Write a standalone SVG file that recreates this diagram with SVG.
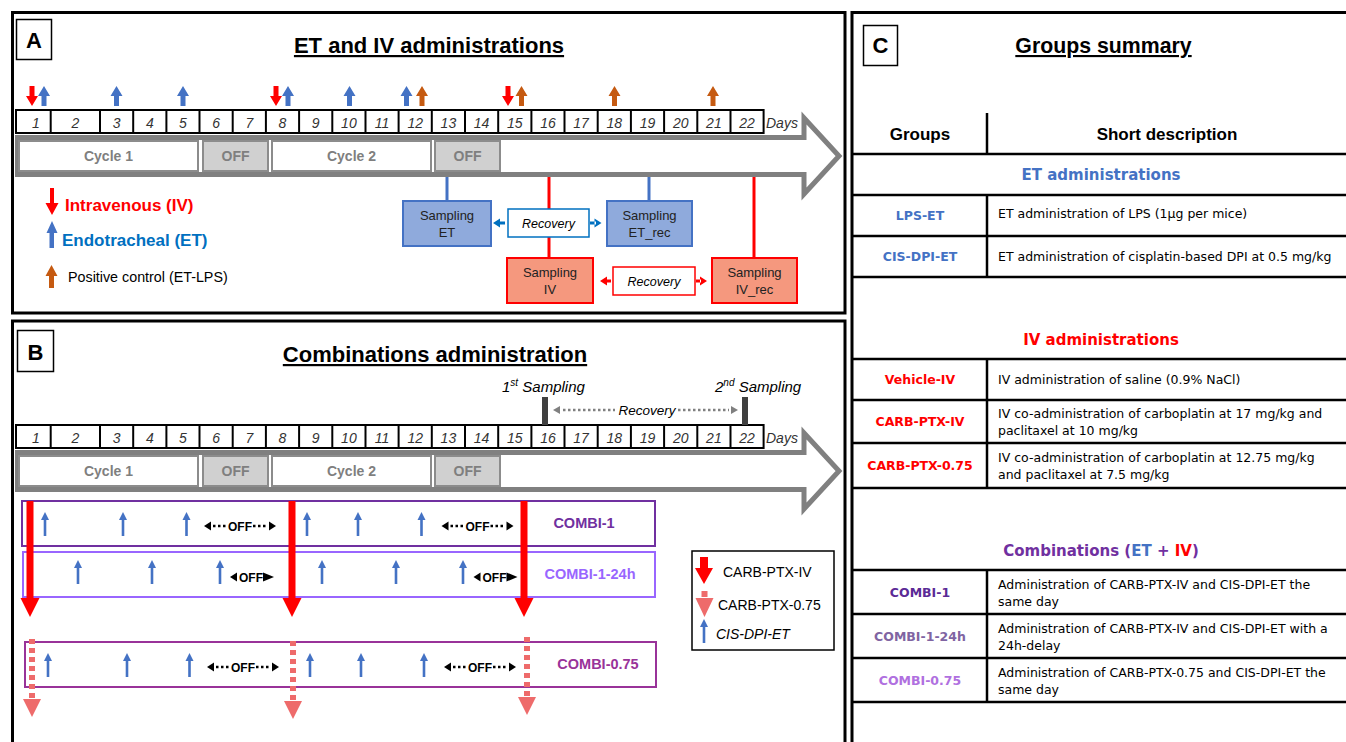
<svg xmlns="http://www.w3.org/2000/svg" xmlns:xlink="http://www.w3.org/1999/xlink" width="1346" height="742" viewBox="0 0 1346 742">
<style>
.frame{fill:none;stroke:#000;stroke-width:3}
.lblbox{fill:#fff;stroke:#000;stroke-width:1.5}
.lbl{font-family:"Liberation Sans",Arial,sans-serif;font-weight:bold;font-size:22px;text-anchor:middle}
.title{font-family:"Liberation Sans",Arial,sans-serif;font-weight:bold;font-size:22px;text-anchor:middle;text-decoration:underline}
.day{font-family:"Liberation Sans",Arial,sans-serif;font-style:italic;font-size:14px;text-anchor:middle;fill:#333}
.cyc{fill:#fff;stroke:#8c8c8c;stroke-width:2}
.offb{fill:#d0d0d0;stroke:#8c8c8c;stroke-width:2}
.cyctxt{font-family:"Liberation Sans",Arial,sans-serif;font-weight:bold;font-size:14px;text-anchor:middle;fill:#7f7f7f}
.cell{stroke:#000;stroke-width:2}
.samp{font-family:"Liberation Sans",Arial,sans-serif;font-size:13px;text-anchor:middle;fill:#222}
.rec{font-family:"Liberation Sans",Arial,sans-serif;font-style:italic;font-size:12.5px;text-anchor:middle;fill:#000}
.sET{fill:#8faadc;stroke:#4472c4;stroke-width:2}
.sIV{fill:#f5987e;stroke:#ff0000;stroke-width:2}
.offt{font-family:"Liberation Sans",Arial,sans-serif;font-weight:bold;font-size:12px;text-anchor:middle;fill:#000}
.dots{stroke:#000;stroke-width:2.5;stroke-dasharray:2.5 2.5;fill:none}
.combi{font-family:"Liberation Sans",Arial,sans-serif;font-weight:bold;font-size:14.5px;text-anchor:middle}
.leg{font-family:"Liberation Sans",Arial,sans-serif;font-size:14px;fill:#000}
.hdr{font-family:"Liberation Sans",Arial,sans-serif;font-weight:bold;font-size:17px;text-anchor:middle;fill:#000}
.sec{font-family:"DejaVu Sans",Verdana,sans-serif;font-weight:bold;font-size:15px;text-anchor:middle}
.grp{font-family:"DejaVu Sans",Verdana,sans-serif;font-weight:bold;font-size:12.5px;text-anchor:middle}
.desc{font-family:"DejaVu Sans",Verdana,sans-serif;font-size:12.5px;fill:#000}
.tl{stroke:#000;stroke-width:2.5}
</style>
<defs>
<path id="up" d="M0,0 L6,10 L2.5,10 L2.5,20 L-2.5,20 L-2.5,10 L-6,10 Z"/>
<path id="dn" d="M-2.5,0 L2.5,0 L2.5,10 L6,10 L0,20 L-6,10 L-2.5,10 Z"/>
<path id="ta" d="M0,0 L4,8 L1.3,8 L1.3,24 L-1.3,24 L-1.3,8 L-4,8 Z" fill="#4472c4"/>
<path id="bigred" d="M-3.5,0 L3.5,0 L3.5,97 L9.5,97 L0,116 L-9.5,97 L-3.5,97 Z" fill="#ff0000"/>
<g id="pinkdash">
<line x1="0" y1="0" x2="0" y2="60" stroke="#ee6b6b" stroke-width="6" stroke-dasharray="5 4"/>
<path d="M-9,60 L9,60 L0,78 Z" fill="#ee6b6b"/>
</g>
<g id="offL">
<path d="M-36,0 L-29,-4.5 L-29,4.5 Z" fill="#000"/>
<line x1="-27" y1="0" x2="-13" y2="0" class="dots"/>
<text x="0" y="4.5" class="offt">OFF</text>
<line x1="13" y1="0" x2="27" y2="0" class="dots"/>
<path d="M36,0 L29,-4.5 L29,4.5 Z" fill="#000"/>
</g>
<g id="offS">
<path d="M-22,0 L-15,-4.5 L-15,4.5 Z" fill="#000"/>
<text x="-1" y="4.5" class="offt">OFF</text>
<path d="M22,0 L11,-4.5 L11,4.5 Z" fill="#000"/>
</g>
<g id="timeline">
<polygon points="17.5,137.5 804,137.5 804,118 839,156 804,194 804,174.5 17.5,174.5" fill="#fff" stroke="#808080" stroke-width="5"/>
<rect x="19" y="141" width="179" height="30" class="cyc"/>
<rect x="203" y="141" width="65" height="30" class="offb"/>
<rect x="272" y="141" width="159" height="30" class="cyc"/>
<rect x="435" y="141" width="65" height="30" class="offb"/>
<text x="108.5" y="161" class="cyctxt">Cycle 1</text>
<text x="235.5" y="161" class="cyctxt">OFF</text>
<text x="351.5" y="161" class="cyctxt">Cycle 2</text>
<text x="467.5" y="161" class="cyctxt">OFF</text>
<rect x="16" y="110" width="747.6" height="23" fill="#fff" class="cell"/>
<g class="cell">
<line x1="50.7" y1="110" x2="50.7" y2="133"/><line x1="100" y1="110" x2="100" y2="133"/>
<line x1="133.2" y1="110" x2="133.2" y2="133"/><line x1="166.4" y1="110" x2="166.4" y2="133"/>
<line x1="199.5" y1="110" x2="199.5" y2="133"/><line x1="232.7" y1="110" x2="232.7" y2="133"/>
<line x1="265.9" y1="110" x2="265.9" y2="133"/><line x1="299.1" y1="110" x2="299.1" y2="133"/>
<line x1="332.3" y1="110" x2="332.3" y2="133"/><line x1="365.5" y1="110" x2="365.5" y2="133"/>
<line x1="398.6" y1="110" x2="398.6" y2="133"/><line x1="431.8" y1="110" x2="431.8" y2="133"/>
<line x1="465" y1="110" x2="465" y2="133"/><line x1="498.2" y1="110" x2="498.2" y2="133"/>
<line x1="531.4" y1="110" x2="531.4" y2="133"/><line x1="564.5" y1="110" x2="564.5" y2="133"/>
<line x1="597.7" y1="110" x2="597.7" y2="133"/><line x1="630.9" y1="110" x2="630.9" y2="133"/>
<line x1="664.1" y1="110" x2="664.1" y2="133"/><line x1="697.3" y1="110" x2="697.3" y2="133"/>
<line x1="730.5" y1="110" x2="730.5" y2="133"/>
</g>
<g class="day">
<text x="36" y="127.5">1</text><text x="75.3" y="127.5">2</text><text x="116.6" y="127.5">3</text>
<text x="149.8" y="127.5">4</text><text x="183" y="127.5">5</text><text x="216.1" y="127.5">6</text>
<text x="249.3" y="127.5">7</text><text x="282.5" y="127.5">8</text><text x="315.7" y="127.5">9</text>
<text x="348.9" y="127.5">10</text><text x="382" y="127.5">11</text><text x="415.2" y="127.5">12</text>
<text x="448.4" y="127.5">13</text><text x="481.6" y="127.5">14</text><text x="514.8" y="127.5">15</text>
<text x="548" y="127.5">16</text><text x="581.1" y="127.5">17</text><text x="614.3" y="127.5">18</text>
<text x="647.5" y="127.5">19</text><text x="680.7" y="127.5">20</text><text x="713.9" y="127.5">21</text>
<text x="747" y="127.5">22</text>
<text x="766" y="127.5" style="text-anchor:start">Days</text>
</g>
</g>
</defs>

<!-- Panel A -->
<g id="panelA">
<rect x="12.5" y="12.5" width="832.5" height="300.5" class="frame"/>
<rect x="16.5" y="19.5" width="35" height="40" class="lblbox"/>
<text x="34" y="47.5" class="lbl">A</text>
<text x="429" y="53" class="title">ET and IV administrations</text>
<use xlink:href="#timeline"/>
<g id="arrowsA">
<use xlink:href="#dn" x="32" y="86" fill="#ff0000"/>
<use xlink:href="#up" x="44" y="86" fill="#4472c4"/>
<use xlink:href="#up" x="116.5" y="86" fill="#4472c4"/>
<use xlink:href="#up" x="183" y="86" fill="#4472c4"/>
<use xlink:href="#dn" x="276" y="86" fill="#ff0000"/>
<use xlink:href="#up" x="288" y="86" fill="#4472c4"/>
<use xlink:href="#up" x="349.5" y="86" fill="#4472c4"/>
<use xlink:href="#up" x="406.5" y="86" fill="#4472c4"/>
<use xlink:href="#up" x="422" y="86" fill="#c55a11"/>
<use xlink:href="#dn" x="508" y="86" fill="#ff0000"/>
<use xlink:href="#up" x="521.5" y="86" fill="#c55a11"/>
<use xlink:href="#up" x="614.5" y="86" fill="#c55a11"/>
<use xlink:href="#up" x="713" y="86" fill="#c55a11"/>
</g>
<g id="legendA">
<path d="M50,188 L54,188 L54,203 L58.5,203 L52,215 L45.5,203 L50,203 Z" fill="#ff0000"/>
<text x="65" y="210.5" font-family="Liberation Sans, Arial, sans-serif" font-weight="bold" font-size="17" fill="#ff0000">Intravenous (IV)</text>
<path d="M52,221 L57.5,233 L54,233 L54,248 L49.5,248 L49.5,233 L46.5,233 Z" fill="#4472c4"/>
<text x="62" y="246" font-family="Liberation Sans, Arial, sans-serif" font-weight="bold" font-size="17" fill="#0070c0">Endotracheal (ET)</text>
<path d="M51.5,265 L57.5,276 L54,276 L54,288 L49,288 L49,276 L45.5,276 Z" fill="#c55a11"/>
<text x="68" y="282" font-family="Liberation Sans, Arial, sans-serif" font-size="14.3" fill="#000">Positive control (ET-LPS)</text>
</g>
</g>

<g id="connectorsA">
<line x1="447" y1="177" x2="447" y2="201" stroke="#4472c4" stroke-width="3"/>
<line x1="649" y1="177" x2="649" y2="201" stroke="#4472c4" stroke-width="3"/>
<line x1="549" y1="177" x2="549" y2="258" stroke="#ff0000" stroke-width="3"/>
<line x1="754" y1="177" x2="754" y2="258" stroke="#ff0000" stroke-width="3"/>
<path d="M493,223 L500,218.5 L500,227.5 Z M499,221.5 L505,221.5 L505,224.5 L499,224.5 Z" fill="#0070c0"/>
<path d="M601.5,223 L594.5,218.5 L594.5,227.5 Z M590,221.5 L596,221.5 L596,224.5 L590,224.5 Z" fill="#0070c0"/>
<path d="M600,281 L607,276.5 L607,285.5 Z M606,279.5 L611,279.5 L611,282.5 L606,282.5 Z" fill="#ff0000"/>
<path d="M707,281 L700,276.5 L700,285.5 Z M696,279.5 L701,279.5 L701,282.5 L696,282.5 Z" fill="#ff0000"/>
</g>

<g id="sampET">
<rect x="403" y="201" width="88" height="45" class="sET"/>
<text x="447" y="220" class="samp">Sampling</text>
<text x="447" y="237" class="samp">ET</text>
</g>
<g id="recET">
<rect x="508" y="209" width="81" height="28" fill="#fff" stroke="#0070c0" stroke-width="1.5"/>
<text x="548.5" y="227.5" class="rec">Recovery</text>
</g>
<g id="sampETrec">
<rect x="607" y="201" width="85" height="45" class="sET"/>
<text x="649.5" y="220" class="samp">Sampling</text>
<text x="649.5" y="237" class="samp">ET_rec</text>
</g>
<g id="sampIV">
<rect x="507" y="258" width="86" height="45" class="sIV"/>
<text x="550" y="277" class="samp">Sampling</text>
<text x="550" y="294" class="samp">IV</text>
</g>
<g id="recIV">
<rect x="613" y="267" width="82" height="28" fill="#fff" stroke="#ff0000" stroke-width="1.5"/>
<text x="654" y="285.5" class="rec">Recovery</text>
</g>
<g id="sampIVrec">
<rect x="712" y="258" width="85" height="45" class="sIV"/>
<text x="754.5" y="277" class="samp">Sampling</text>
<text x="754.5" y="294" class="samp">IV_rec</text>
</g>

<!-- Panel B -->
<g id="panelB">
<rect x="12.5" y="321" width="832.5" height="440" class="frame"/>
<rect x="17.5" y="330.5" width="36" height="41" class="lblbox"/>
<text x="35.5" y="360" class="lbl">B</text>
<text x="435" y="362" class="title">Combinations administration</text>
<use xlink:href="#timeline" y="315"/>
<text x="502" y="392" font-family="Liberation Sans, Arial, sans-serif" font-style="italic" font-size="15">1<tspan font-size="10" dy="-6">st</tspan><tspan dy="6"> Sampling</tspan></text>
<text x="715" y="392" font-family="Liberation Sans, Arial, sans-serif" font-style="italic" font-size="15">2<tspan font-size="10" dy="-6">nd</tspan><tspan dy="6"> Sampling</tspan></text>
<rect x="542" y="397" width="6" height="28" fill="#404040"/>
<rect x="742" y="397" width="6" height="28" fill="#404040"/>
<path d="M553,410 L560,406 L560,414 Z M738,410 L731,406 L731,414 Z" fill="#808080"/>
<line x1="563" y1="410" x2="615" y2="410" stroke="#808080" stroke-width="2.5" stroke-dasharray="2.5 2.5"/>
<line x1="678" y1="410" x2="729" y2="410" stroke="#808080" stroke-width="2.5" stroke-dasharray="2.5 2.5"/>
<text x="647" y="414.5" font-family="Liberation Sans, Arial, sans-serif" font-style="italic" font-size="13.5" text-anchor="middle">Recovery</text>
</g>

<g id="combi1">
<rect x="22" y="501" width="633" height="45" fill="#fff" stroke="#7030a0" stroke-width="2"/>
<use xlink:href="#ta" x="45" y="512"/><use xlink:href="#ta" x="123" y="512"/><use xlink:href="#ta" x="186.5" y="512"/>
<use xlink:href="#ta" x="307" y="512"/><use xlink:href="#ta" x="358" y="512"/><use xlink:href="#ta" x="421.5" y="512"/>
<use xlink:href="#offL" x="240" y="526"/>
<use xlink:href="#offL" x="477.5" y="526"/>
<text x="584" y="528" class="combi" fill="#7030a0">COMBI-1</text>
</g>
<g id="combi124">
<rect x="23" y="552" width="632" height="45" fill="#fff" stroke="#9966ff" stroke-width="2"/>
<use xlink:href="#ta" x="78" y="560"/><use xlink:href="#ta" x="152" y="560"/><use xlink:href="#ta" x="220" y="560"/>
<use xlink:href="#ta" x="322" y="560"/><use xlink:href="#ta" x="396" y="560"/><use xlink:href="#ta" x="463" y="560"/>
<use xlink:href="#offS" x="252" y="577"/>
<use xlink:href="#offS" x="495.5" y="577"/>
<text x="590" y="579" class="combi" fill="#9966ff">COMBI-1-24h</text>
</g>
<g id="combi075">
<rect x="25" y="642" width="631" height="45" fill="#fff" stroke="#993399" stroke-width="2"/>
<use xlink:href="#ta" x="48" y="653"/><use xlink:href="#ta" x="127" y="653"/><use xlink:href="#ta" x="189.5" y="653"/>
<use xlink:href="#ta" x="310" y="653"/><use xlink:href="#ta" x="361" y="653"/><use xlink:href="#ta" x="424" y="653"/>
<use xlink:href="#offL" x="243" y="667"/>
<use xlink:href="#offL" x="480" y="667"/>
<text x="598" y="669" class="combi" fill="#993399">COMBI-0.75</text>
</g>

<g id="connectorsB">
<use xlink:href="#bigred" x="30" y="501"/>
<use xlink:href="#bigred" x="292" y="501"/>
<use xlink:href="#bigred" x="524" y="501"/>
<use xlink:href="#pinkdash" x="32" y="639"/>
<use xlink:href="#pinkdash" x="293" y="641"/>
<use xlink:href="#pinkdash" x="527" y="637"/>
</g>

<g id="legendB">
<rect x="692" y="551" width="142" height="99" fill="#fff" stroke="#000" stroke-width="1.5"/>
<path d="M700,557 L708,557 L708,568 L713,568 L704,584 L695,568 L700,568 Z" fill="#ff0000"/>
<text x="723" y="577" class="leg">CARB-PTX-IV</text>
<rect x="701.5" y="591" width="6" height="6" fill="#ee6b6b"/>
<path d="M695.5,598 L713.5,598 L704.5,617 Z" fill="#ee6b6b"/>
<text x="718" y="610" class="leg">CARB-PTX-0.75</text>
<use xlink:href="#ta" x="704" y="619"/>
<text x="716" y="639" class="leg" font-style="italic">CIS-DPI-ET</text>
</g>

<!-- Panel C -->
<g id="panelC">
<rect x="852" y="12.5" width="520" height="760" class="frame"/>
<rect x="863.5" y="25.5" width="34" height="40" class="lblbox"/>
<text x="880.5" y="53" class="lbl">C</text>
<text x="1103.5" y="53" class="title" style="font-size:21.3px">Groups summary</text>
<text x="920" y="139.5" class="hdr">Groups</text>
<text x="1167" y="139.5" class="hdr">Short description</text>
<g class="tl">
<line x1="852" y1="154" x2="1346" y2="154"/>
<line x1="852" y1="195" x2="1346" y2="195"/>
<line x1="852" y1="236" x2="1346" y2="236"/>
<line x1="852" y1="277" x2="1346" y2="277"/>
<line x1="852" y1="359" x2="1346" y2="359"/>
<line x1="852" y1="400" x2="1346" y2="400"/>
<line x1="852" y1="443" x2="1346" y2="443"/>
<line x1="852" y1="488" x2="1346" y2="488"/>
<line x1="852" y1="570" x2="1346" y2="570"/>
<line x1="852" y1="614" x2="1346" y2="614"/>
<line x1="852" y1="658" x2="1346" y2="658"/>
<line x1="852" y1="702" x2="1346" y2="702"/>
<line x1="987" y1="113" x2="987" y2="154"/>
<line x1="987" y1="195" x2="987" y2="277"/>
<line x1="987" y1="359" x2="987" y2="488"/>
<line x1="987" y1="570" x2="987" y2="702"/>
</g>
<text x="1101" y="180" class="sec" fill="#4472c4">ET administrations</text>
<text x="920" y="220" class="grp" fill="#4472c4">LPS-ET</text>
<text x="998" y="218" class="desc">ET administration of LPS (1μg per mice)</text>
<text x="920" y="261" class="grp" fill="#4472c4">CIS-DPI-ET</text>
<text x="998" y="261" class="desc">ET administration of cisplatin-based DPI at 0.5 mg/kg</text>
<text x="1101" y="345" class="sec" fill="#ff0000">IV administrations</text>
<text x="920" y="384" class="grp" fill="#ff0000">Vehicle-IV</text>
<text x="998" y="384" class="desc">IV administration of saline (0.9% NaCl)</text>
<text x="920" y="426" class="grp" fill="#ff0000">CARB-PTX-IV</text>
<text x="998" y="418" class="desc">IV co-administration of carboplatin at 17 mg/kg and</text>
<text x="998" y="435" class="desc">paclitaxel at 10 mg/kg</text>
<text x="920" y="470" class="grp" fill="#ff0000">CARB-PTX-0.75</text>
<text x="998" y="462" class="desc">IV co-administration of carboplatin at 12.75 mg/kg</text>
<text x="998" y="479" class="desc">and paclitaxel at 7.5 mg/kg</text>
<text x="1101" y="556" class="sec" fill="#7030a0">Combinations (<tspan fill="#4472c4">ET</tspan> + <tspan fill="#ff0000">IV</tspan>)</text>
<text x="920" y="597" class="grp" fill="#5b2a96">COMBI-1</text>
<text x="998" y="589" class="desc">Administration of CARB-PTX-IV and CIS-DPI-ET the</text>
<text x="998" y="606" class="desc">same day</text>
<text x="920" y="641" class="grp" fill="#8064a2">COMBI-1-24h</text>
<text x="998" y="633" class="desc">Administration of CARB-PTX-IV and CIS-DPI-ET with a</text>
<text x="998" y="650" class="desc">24h-delay</text>
<text x="920" y="685" class="grp" fill="#b070e0">COMBI-0.75</text>
<text x="998" y="677" class="desc">Administration of CARB-PTX-0.75 and CIS-DPI-ET the</text>
<text x="998" y="694" class="desc">same day</text>
</g>
</svg>
